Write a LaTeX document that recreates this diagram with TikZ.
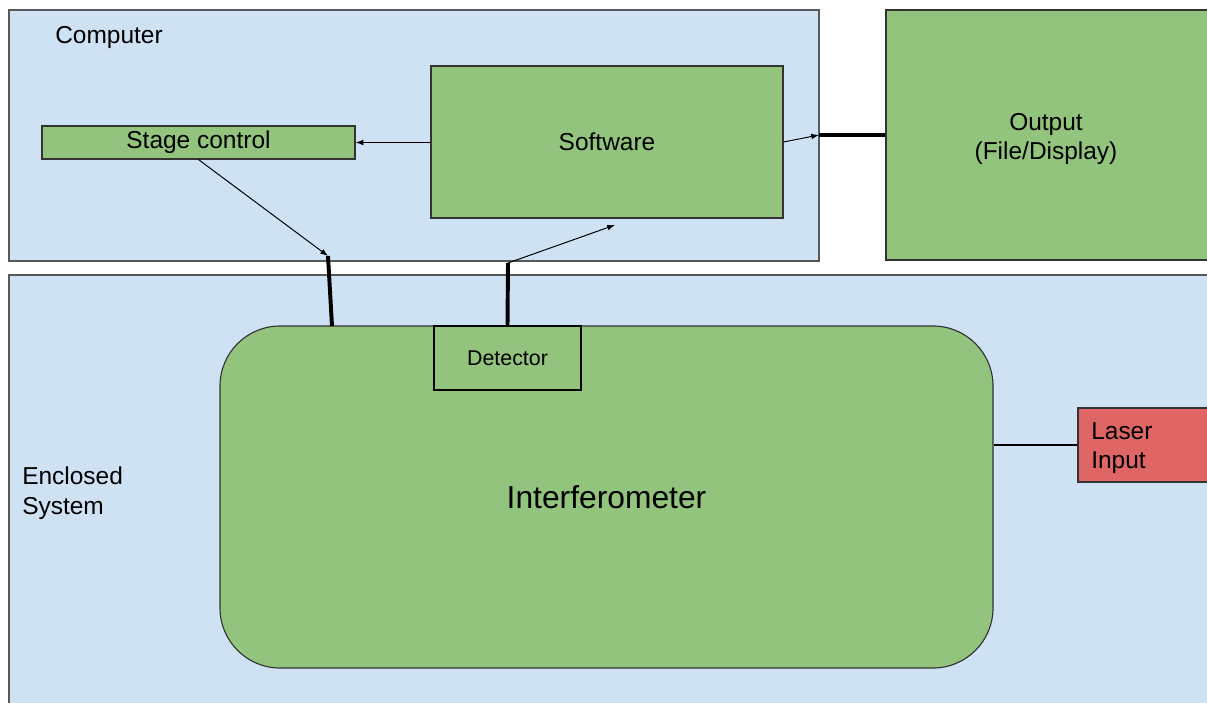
\documentclass[tikz,border=0pt]{standalone}
\usepackage{fontspec}
\setmainfont{Liberation Sans}
\usetikzlibrary{positioning,fit,arrows.meta}
\definecolor{panelblue}{HTML}{CFE2F3}
\definecolor{blockgreen}{HTML}{93C47D}
\definecolor{laserred}{HTML}{E06666}

\begin{document}
\begin{tikzpicture}[x=0.025cm,y=-0.025cm,
    font=\fontsize{17.4}{21}\selectfont,
    panel/.style={draw=black!65, line width=0.9pt, fill=panelblue, inner sep=0pt},
    block/.style={draw=black!80, line width=0.8pt, fill=blockgreen, inner sep=0pt},
    caption/.style={inner sep=0pt, align=center},
    thinarrow/.style={-{Latex[length=5.5pt,width=4pt]}, line width=0.7pt},
    cable/.style={line width=2.8pt}]

    \useasboundingbox (0,0) rectangle (1207,702);
    \clip (0,0) rectangle (1207,702);

    % Panels
    \node[panel, fit={(9,10) (819,261)}] (computer) {};
    \node[panel, fit={(9,275) (1240,740)}] (enclosed) {};
    \node[anchor=base west, inner sep=0pt] (computerlabel) at (55,44) {Computer};
    \node[caption, anchor=west, align=left] (enclosedlabel) at (22,493) {Enclosed\\System};

    % Computer blocks
    \node[block, fit={(431,66) (783,218)}] (software) {};
    \node[caption] (softwarelabel) at (software.center) {Software};
    \node[block, fit={(42,126) (355,159)}] (stage) {};
    \node[caption] (stagelabel) at (stage.center) {Stage control};
    \node[block, fit={(886,10) (1240,260)}] (output) {};
    \node[caption] (outputlabel) at (1046,139) {Output\\(File/Display)};

    % Enclosed system
    \node[block, rounded corners=1.5cm, fit={(220,326) (993,668)}] (interf) {};
    \node[caption, font=\fontsize{22.6}{27}\selectfont] (interflabel) at (interf.center) {Interferometer};
    \node[block, draw=black, line width=1.5pt, fit={(434,326) (581,390)}] (detector) {};
    \node[caption, font=\fontsize{15.2}{18}\selectfont] (detectorlabel) at (detector.center) {Detector};
    \node[block, fill=laserred, fit={(1078,408) (1240,482)}] (laser) {};
    \node[caption, anchor=west, align=left] (laserlabel) at (1091,448) {Laser\\Input};

    % Connections
    \coordinate (stagejoint) at (328,256);
    \coordinate (stagefoot) at (332,326);
    \coordinate (detjoint) at (508,263);
    \coordinate (softin) at (615,225);
    \coordinate (outjoint) at (819,135);

    \draw[thinarrow] (software.west |- stage.east) -- (stage.east);
    \draw[thinarrow] (stage.south) -- (stagejoint);
    \draw[cable] (stagejoint) -- (stagefoot);
    \draw[cable] (detector.north) -- (detjoint);
    \draw[thinarrow] (detjoint) -- (softin);
    \draw[thinarrow] (software.east) -- (outjoint);
    \draw[cable] (outjoint) -- (output.west |- outjoint);
    \draw[line width=0.9pt] (laser.west -| interf.east) -- (laser.west);
\end{tikzpicture}
\end{document}
